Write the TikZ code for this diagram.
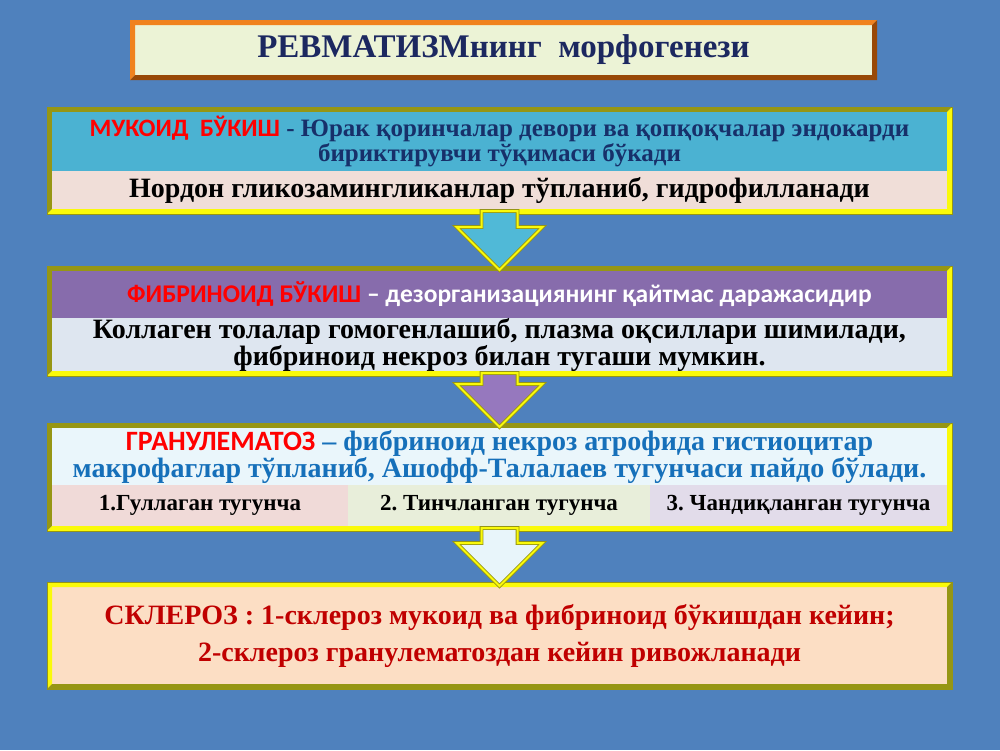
\documentclass[tikz,border=0pt]{standalone}
\usepackage{fontspec}
\setmainfont{Liberation Serif}
\setsansfont{Carlito}
\usepackage{xcolor}
\usepackage{tikz}
\usetikzlibrary{calc}

\definecolor{slide}{RGB}{79,129,189}
\definecolor{titlefill}{RGB}{236,243,214}
\definecolor{titletext}{RGB}{28,40,96}
\definecolor{orangelite}{RGB}{240,130,30}
\definecolor{orangedark}{RGB}{152,72,7}
\definecolor{edgelite}{RGB}{250,250,10}
\definecolor{edgedark}{RGB}{150,150,20}
\definecolor{cyanband}{RGB}{75,178,210}
\definecolor{pinkband}{RGB}{240,222,216}
\definecolor{navytext}{RGB}{23,48,106}
\definecolor{purpleband}{RGB}{135,108,172}
\definecolor{greyband}{RGB}{222,230,240}
\definecolor{iceband}{RGB}{234,246,251}
\definecolor{bluetext}{RGB}{22,112,186}
\definecolor{cellpink}{RGB}{240,218,216}
\definecolor{cellgreen}{RGB}{232,238,218}
\definecolor{celllilac}{RGB}{226,220,234}
\definecolor{peach}{RGB}{252,222,196}
\definecolor{redtext}{RGB}{192,0,0}
\definecolor{arrowcyan}{RGB}{80,185,215}
\definecolor{arrowpurple}{RGB}{150,120,190}
\definecolor{arrowice}{RGB}{232,245,250}

\newcommand{\bev}{5pt}

\tikzset{
  frame/.style={minimum width=905, inner sep=0, outer sep=0, align=center},
  band/.style={minimum width=895, inner sep=0, outer sep=0, align=center},
  bevel/.style 2 args={path picture={
      \fill[#1] (path picture bounding box.north west) -- (path picture bounding box.north east)
        -- ++(-\bev,-\bev) -| ($(path picture bounding box.south west)+(\bev,\bev)$)
        -- (path picture bounding box.south west) -- cycle;
      \fill[#2] (path picture bounding box.south east) -- (path picture bounding box.north east)
        -- ++(-\bev,-\bev) |- ($(path picture bounding box.south west)+(\bev,\bev)$)
        -- (path picture bounding box.south west) -- cycle;
    }},
  blockarrow/.style={draw=edgedark, double=edgelite, line width=0.8pt, double distance=2pt, line join=miter},
  cell/.style={band, minimum height=41, font=\fontsize{23}{23}\selectfont\bfseries}
}

\begin{document}
\begin{tikzpicture}[x=1pt, y=1pt]
  \fill[slide] (0,0) rectangle (1000,-750);

  \node[frame, minimum width=747, minimum height=60, fill=titlefill, bevel={orangelite}{orangedark},
        font=\fontsize{33}{36}\selectfont\bfseries, text=titletext] (title) at (503.5,-50)
        {\raisebox{-2pt}{РЕВМАТИЗМнинг\ \ морфогенези}};

  % mukoid
  \node[frame, minimum height=107, fill=cyanband, draw=edgedark, line width=0.6pt,
        bevel={edgedark}{edgelite}] (mukoid) at (499.5,-160.5) {};
  \node[band, minimum height=59, fill=cyanband, anchor=north, text=navytext,
        font=\fontsize{25}{25}\selectfont\bfseries] (mukoidtop) at ([yshift=-5]mukoid.north)
        {{\sffamily\color{red}МУКОИД\ \ БЎКИШ} - Юрак қоринчалар девори ва қопқоқчалар эндокарди\\
         бириктирувчи тўқимаси бўкади};
  \node[band, minimum height=38, fill=pinkband, anchor=north,
        font=\fontsize{28}{28}\selectfont\bfseries] (mukoidlow) at (mukoidtop.south)
        {Нордон гликозамингликанлар тўпланиб, гидрофилланади};

  % fibrinoid
  \node[frame, minimum height=110, fill=greyband, draw=edgedark, line width=0.6pt,
        bevel={edgedark}{edgelite}] (fibrin) at (499.5,-321) {};
  \node[band, minimum height=47, fill=purpleband, anchor=north, text=white,
        font=\fontsize{25.5}{25.5}\selectfont\sffamily\bfseries] (fibrintop) at ([yshift=-5]fibrin.north)
        {\raisebox{-2pt}{{\color{red}ФИБРИНОИД БЎКИШ} – дезорганизациянинг қайтмас даражасидир}};
  \node[band, minimum height=53, fill=greyband, anchor=north,
        font=\fontsize{28}{25}\selectfont\bfseries] (fibrinlow) at (fibrintop.south)
        {Коллаген толалар гомогенлашиб, плазма оқсиллари шимилади,\\
         фибриноид некроз билан тугаши мумкин.};

  % granulematoz
  \node[frame, minimum height=108, fill=iceband, draw=edgedark, line width=0.6pt,
        bevel={edgedark}{edgelite}] (granul) at (499.5,-477) {};
  \node[band, minimum height=57, fill=iceband, anchor=north, text=bluetext,
        font=\fontsize{28}{27}\selectfont\bfseries] (granultop) at ([yshift=-5]granul.north)
        {{\sffamily\color{red}ГРАНУЛЕМАТОЗ} – фибриноид некроз атрофида гистиоцитар\\
         макрофаглар тўпланиб, Ашофф-Талалаев тугунчаси пайдо бўлади.};
  \node[cell, minimum width=296, fill=cellpink, anchor=north west] (cellone) at (granultop.south west)
        {1.Гуллаган тугунча};
  \node[cell, minimum width=302, fill=cellgreen, anchor=west] (celltwo) at (cellone.east)
        {2.\ Тинчланган тугунча};
  \node[cell, minimum width=297, fill=celllilac, anchor=west] (cellthree) at (celltwo.east)
        {3.\ Чандиқланган тугунча};

  % skleroz
  \node[frame, minimum height=107, fill=peach, draw=edgedark, line width=0.6pt,
        bevel={edgelite}{edgedark}, text=redtext,
        font=\fontsize{28}{37}\selectfont\bfseries] (skleroz) at (499.5,-635.5)
        {СКЛЕРОЗ : 1-склероз мукоид ва фибриноид бўкишдан кейин;\\
         2-склероз гранулематоздан кейин ривожланади};

  % arrows
  \coordinate (tipA) at ([yshift=-4]fibrin.north);
  \coordinate (tipB) at ([yshift=-4]granul.north);
  \coordinate (tipC) at ([yshift=-4]skleroz.north);
  \draw[blockarrow, fill=arrowcyan] ([xshift=-18,yshift=3]mukoid.south) |- ([xshift=-43,yshift=43]tipA)
    -- (tipA) -- ++(43,43) -| ([xshift=18,yshift=3]mukoid.south) -- cycle;
  \draw[blockarrow, fill=arrowpurple] ([xshift=-18,yshift=3]fibrin.south) |- ([xshift=-43,yshift=43]tipB)
    -- (tipB) -- ++(43,43) -| ([xshift=18,yshift=3]fibrin.south) -- cycle;
  \draw[blockarrow, fill=arrowice] ([xshift=-18,yshift=3]granul.south) |- ([xshift=-43,yshift=43]tipC)
    -- (tipC) -- ++(43,43) -| ([xshift=18,yshift=3]granul.south) -- cycle;
\end{tikzpicture}
\end{document}
